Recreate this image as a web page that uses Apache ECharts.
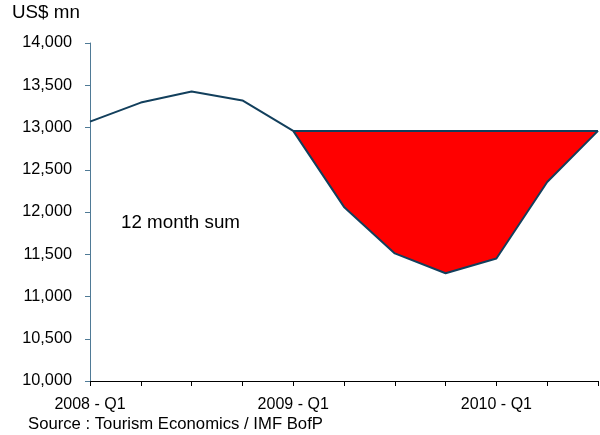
<!DOCTYPE html>
<html>
<head>
<meta charset="utf-8">
<script src="https://cdn.jsdelivr.net/npm/echarts@6/dist/echarts.min.js"></script>
<style>
  html, body { margin: 0; padding: 0; background: #fff; }
  #chart { width: 600px; height: 435px; }
</style>
</head>
<body>
<div id="chart"></div>
<script>
// quarters, 2008 Q1 .. 2010 Q3
const categories = [
  "2008 - Q1", "2008 - Q2", "2008 - Q3", "2008 - Q4",
  "2009 - Q1", "2009 - Q2", "2009 - Q3", "2009 - Q4",
  "2010 - Q1", "2010 - Q2", "2010 - Q3"
];
// 12 month sum, US$ mn
const sumValues = [13070, 13295, 13425, 13320, 12960, 12060, 11510, 11275, 11450, 12355, 12960];
// level the gap is measured against (2009 Q1)
const gapLevel = 12960;
const gapStart = 4;
const yTicks = { min: 10000, max: 14000, step: 500 };

const baseData = sumValues.map((v, i) => (i < gapStart ? null : v));
const gapData = sumValues.map((v, i) => (i < gapStart ? null : gapLevel - v));

const lineColor = "#123f5c";
const font = "Liberation Sans, Arial, sans-serif";

const chart = echarts.init(document.getElementById("chart"));

const option = {
  animation: false,
  grid: { left: 90, right: 2, top: 43, bottom: 54, containLabel: false },
  xAxis: {
    type: "category",
    data: categories,
    boundaryGap: false,
    axisLine: { lineStyle: { color: "#000", width: 1 } },
    axisTick: { show: true, interval: 0, length: 5, inside: false, lineStyle: { color: "#000" } },
    axisLabel: {
      interval: 3,
      color: "#000",
      fontFamily: font,
      fontSize: 16,
      margin: 16
    },
    splitLine: { show: false }
  },
  yAxis: {
    type: "value",
    min: yTicks.min,
    max: yTicks.max,
    interval: yTicks.step,
    axisLine: { show: true, lineStyle: { color: "#4f7a96", width: 1 } },
    axisTick: { show: true, length: 5, lineStyle: { color: "#4f7a96" } },
    axisLabel: {
      color: "#000",
      fontFamily: font,
      fontSize: 16.3,
      margin: 18,
      formatter: v => v.toLocaleString("en-US")
    },
    splitLine: { show: false }
  },
  series: [
    {
      name: "base",
      type: "line",
      stack: "gap",
      data: baseData,
      symbol: "none",
      lineStyle: { opacity: 0 },
      silent: true,
      z: 1
    },
    {
      name: "gap",
      type: "line",
      stack: "gap",
      data: gapData,
      symbol: "none",
      lineStyle: { color: lineColor, width: 2 },
      areaStyle: { color: "#ff0000", opacity: 1 },
      silent: true,
      z: 2
    },
    {
      name: "12 month sum",
      type: "line",
      data: sumValues,
      symbol: "none",
      lineStyle: { color: lineColor, width: 2 },
      z: 3
    }
  ],
  graphic: [
    {
      type: "text",
      left: 12,
      top: 3,
      style: { text: "US$ mn", fill: "#000", font: "18.8px " + font }
    },
    {
      type: "text",
      left: 121,
      top: 213,
      style: { text: "12 month sum", fill: "#000", font: "18.8px " + font }
    },
    {
      type: "text",
      left: 28,
      top: 416,
      style: { text: "Source : Tourism Economics / IMF BofP", fill: "#000", font: "16.7px " + font }
    }
  ]
};

chart.setOption(option);
</script>
</body>
</html>
